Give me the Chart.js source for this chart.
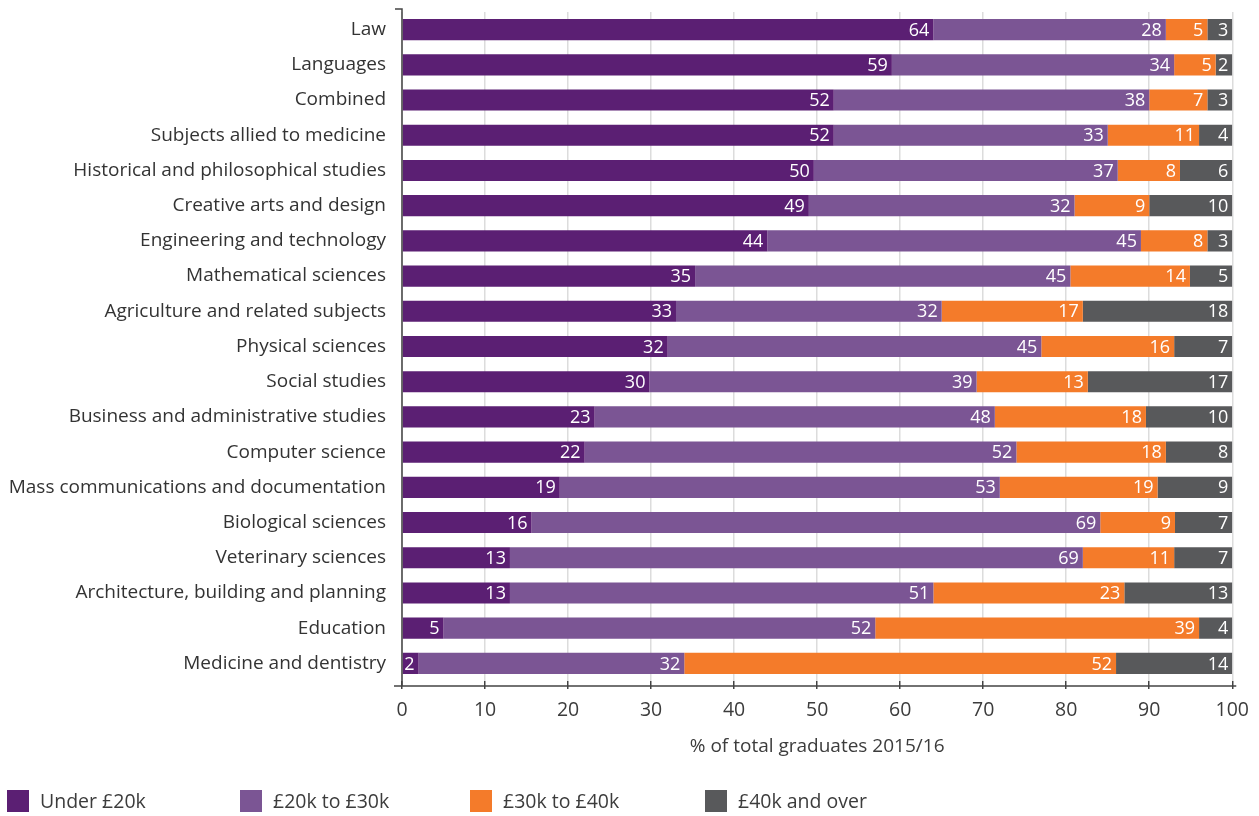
<!DOCTYPE html>
<html>
<head>
<meta charset="utf-8">
<script src="https://cdn.jsdelivr.net/npm/chart.js@4"></script>
<style>
  body { margin: 0; background: #fff; font-family: "Open Sans", sans-serif; }
  #wrap { position: relative; width: 1259px; height: 816px; }
  #legenda { position: absolute; left: 7px; top: 790px; height: 24px; }
  .item { position: absolute; top: 0; white-space: nowrap; font-size: 19.5px; color: #3c3c3c; line-height: 22px; }
  .caixa { display: inline-block; width: 22px; height: 22px; vertical-align: top; margin-right: 11px; }
</style>
</head>
<body>
<div id="wrap">
  <canvas id="myChart" width="1259" height="816"></canvas>
  <div id="legenda"></div>
</div>
<script>
const categorias = [
  'Law', 'Languages', 'Combined', 'Subjects allied to medicine',
  'Historical and philosophical studies', 'Creative arts and design',
  'Engineering and technology', 'Mathematical sciences',
  'Agriculture and related subjects', 'Physical sciences', 'Social studies',
  'Business and administrative studies', 'Computer science',
  'Mass communications and documentation', 'Biological sciences',
  'Veterinary sciences', 'Architecture, building and planning',
  'Education', 'Medicine and dentistry'
];
// valores (alguns com decimais, o rotulo mostra arredondado)
const under20k = [64, 59, 52, 52, 49.6, 49, 44, 35.3, 33, 32, 29.8, 23.2, 22, 19, 15.6, 13, 13, 5, 2];
const de20a30k = [28, 34, 38, 33, 36.6, 32, 45, 45.2, 32, 45, 39.4, 48.2, 52, 53, 68.5, 69, 51, 52, 32];
const de30a40k = [5, 5, 7, 11, 7.5, 9, 8, 14.4, 17, 16, 13.4, 18.2, 18, 19, 9, 11, 23, 39, 52];
const acima40k = [3, 2, 3, 4, 6.3, 10, 3, 5.1, 18, 7, 17.4, 10.4, 8, 9, 6.9, 7, 13, 4, 14];
const xTicks = [0, 10, 20, 30, 40, 50, 60, 70, 80, 90, 100];

const series = [
  { label: 'Under £20k', data: under20k, cor: '#5b1f73' },
  { label: '£20k to £30k', data: de20a30k, cor: '#7b5594' },
  { label: '£30k to £40k', data: de30a40k, cor: '#f47b2a' },
  { label: '£40k and over', data: acima40k, cor: '#58595b' }
];

const fonte = '"Open Sans", sans-serif';

// rotulos brancos no fim de cada segmento
const rotulos = {
  id: 'rotulos',
  afterDatasetsDraw(chart) {
    const c = chart.ctx;
    const area = chart.chartArea;
    c.save();
    c.font = '18px ' + fonte;
    c.fillStyle = '#fff';
    c.textAlign = 'right';
    c.textBaseline = 'middle';
    chart.data.datasets.forEach((ds, i) => {
      chart.getDatasetMeta(i).data.forEach((bar, j) => {
        const x = Math.min(bar.x, area.right);
        c.fillText(Math.round(ds.data[j]), x - 4, bar.y + 1);
      });
    });
    c.restore();
  }
};

// linhas dos eixos
const eixos = {
  id: 'eixos',
  afterDraw(chart) {
    const c = chart.ctx;
    const a = chart.chartArea;
    c.save();
    c.strokeStyle = '#444';
    c.lineWidth = 1.5;
    c.beginPath();
    c.moveTo(a.left - 7, a.top - 3);
    c.lineTo(a.left, a.top - 3);
    c.lineTo(a.left, a.bottom + 5);
    c.moveTo(a.left - 8, a.bottom + 5);
    c.lineTo(a.right + 4, a.bottom + 5);
    c.stroke();
    c.restore();
  }
};

const ctx = document.getElementById('myChart').getContext('2d');
const grafico = new Chart(ctx, {
  type: 'bar',
  data: {
    labels: categorias,
    datasets: series.map(s => ({
      label: s.label,
      data: s.data,
      backgroundColor: s.cor,
      borderWidth: 0,
      categoryPercentage: 0.6,
      barPercentage: 1
    }))
  },
  options: {
    indexAxis: 'y',
    responsive: false,
    animation: false,
    layout: { padding: { top: 12, right: 26, bottom: 58, left: 0 } },
    plugins: { legend: { display: false }, tooltip: { enabled: false } },
    scales: {
      x: {
        stacked: true,
        min: 0,
        max: 100,
        afterBuildTicks: (s) => { s.ticks = xTicks.map(v => ({ value: v })); },
        afterFit: (s) => { s.height = 77; },
        grid: { color: '#dcdcdc', lineWidth: 1.5, tickColor: '#444', tickLength: 8, drawOnChartArea: true },
        border: { display: false },
        ticks: { color: '#3c3c3c', font: { size: 19.5, family: fonte }, padding: 10 },
        title: {
          display: true,
          text: '% of total graduates 2015/16',
          color: '#3c3c3c',
          font: { size: 19, family: fonte },
          padding: { top: 10, bottom: 0 }
        }
      },
      y: {
        stacked: true,
        afterFit: (s) => { s.width = 402; s.paddingTop = 0; s.paddingBottom = 0; },
        grid: { display: false, drawTicks: false },
        border: { display: false },
        ticks: { color: '#333', font: { size: 19, family: fonte }, padding: 16 }
      }
    }
  },
  plugins: [rotulos, eixos]
});

const legenda = document.getElementById('legenda');
const posicoes = [0, 233, 463, 698];
series.forEach((s, i) => {
  const item = document.createElement('div');
  item.className = 'item';
  item.style.left = posicoes[i] + 'px';
  item.innerHTML = '<span class="caixa" style="background:' + s.cor + '"></span>' + s.label;
  legenda.appendChild(item);
});
</script>
</body>
</html>
